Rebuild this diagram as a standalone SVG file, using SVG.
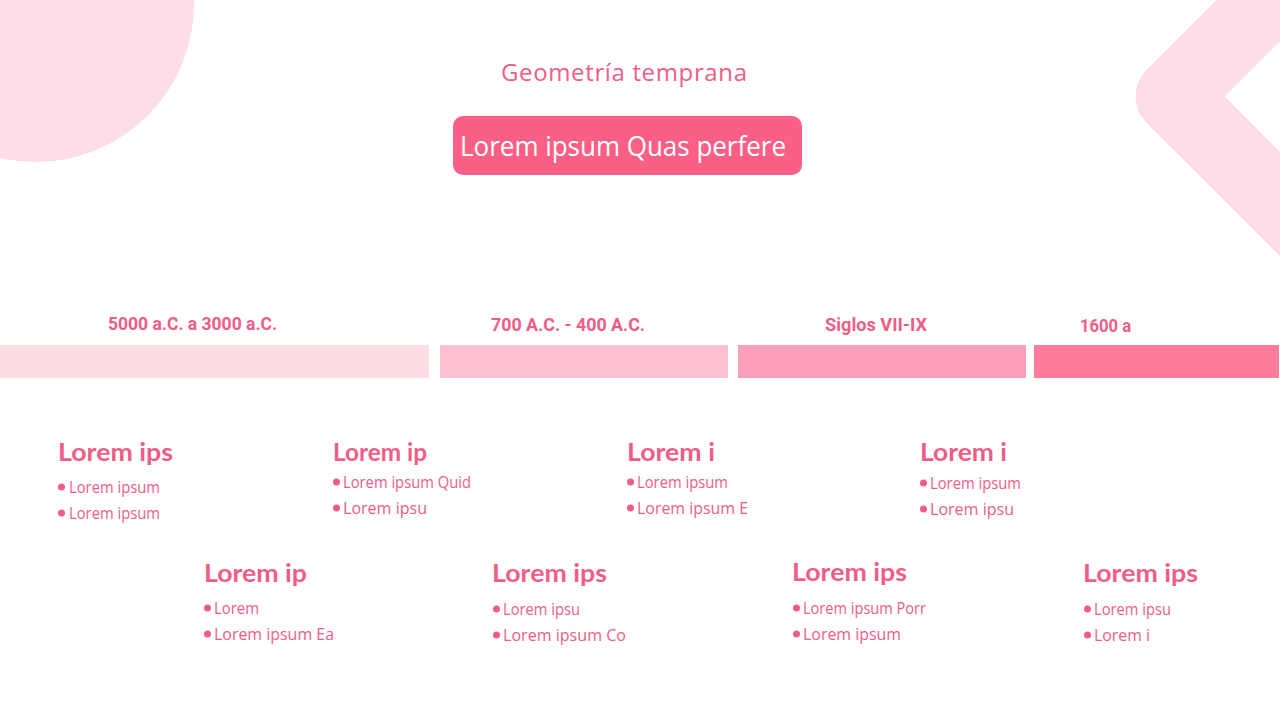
<svg xmlns="http://www.w3.org/2000/svg" width="1280" height="720" viewBox="0 0 1280 720">
<style>
.deco{fill:#FDDDE6}
.title{font-family:"Open Sans","Noto Sans",sans-serif;font-size:24px;fill:#EF5D87}
.btn{fill:#FB5F86}
.btnt{font-family:"Open Sans","Noto Sans",sans-serif;font-size:28px;fill:#FFFFFF}
.lab{font-family:"Roboto","Liberation Sans",sans-serif;font-weight:bold;font-size:18px;fill:#EF5D87}
.h{font-family:"Lato","Liberation Sans",sans-serif;font-weight:bold;font-size:24px;fill:#EF5D87}
.t{font-family:"Open Sans","Noto Sans",sans-serif;font-size:16px;fill:#EF5D87}
.dot{fill:#EF5D87}
</style>
<rect width="1280" height="720" fill="#FFFFFF"/>
<g id="decor">
<circle class="deco" cx="36" cy="4" r="158"/>
<polyline points="1372,-103.5 1172.5,96.5 1372,296" fill="none" stroke="#FDDDE6" stroke-width="74" stroke-linejoin="round"/>
</g>
<g id="title"><text class="title" x="624" y="81" text-anchor="middle" textLength="246">Geometría temprana</text></g>
<g id="header">
<rect class="btn" x="453" y="116" width="349" height="59" rx="10"/>
<text class="btnt" x="460" y="156" textLength="326" lengthAdjust="spacingAndGlyphs">Lorem ipsum Quas perfere</text>
</g>
<g id="timeline">
<rect x="0" y="345" width="429" height="33" fill="#FDDDE4"/>
<rect x="440" y="345" width="288" height="33" fill="#FDC0D0"/>
<rect x="738" y="345" width="288" height="33" fill="#FC9FB8"/>
<rect x="1034" y="345" width="245" height="33" fill="#FF7C9A"/>
<text class="lab" x="108" y="330" textLength="169" lengthAdjust="spacingAndGlyphs">5000 a.C. a 3000 a.C.</text>
<text class="lab" x="491" y="331" textLength="154" lengthAdjust="spacingAndGlyphs">700 A.C. - 400 A.C.</text>
<text class="lab" x="825" y="331" textLength="102" lengthAdjust="spacingAndGlyphs">Siglos VII-IX</text>
<text class="lab" x="1080" y="332" textLength="51" lengthAdjust="spacingAndGlyphs">1600 a</text>
</g>
<g id="item1">
<text class="h" x="58" y="461" textLength="115" lengthAdjust="spacingAndGlyphs">Lorem ips</text>
<circle class="dot" cx="61.5" cy="487" r="3.5"/><text class="t" x="69" y="493" textLength="91" lengthAdjust="spacingAndGlyphs">Lorem ipsum</text>
<circle class="dot" cx="61.5" cy="513" r="3.5"/><text class="t" x="69" y="519" textLength="91" lengthAdjust="spacingAndGlyphs">Lorem ipsum</text>
</g>
<g id="item2">
<text class="h" x="333" y="461" textLength="94" lengthAdjust="spacingAndGlyphs">Lorem ip</text>
<circle class="dot" cx="336.5" cy="482" r="3.5"/><text class="t" x="343" y="488" textLength="128" lengthAdjust="spacingAndGlyphs">Lorem ipsum Quid</text>
<circle class="dot" cx="336.5" cy="508" r="3.5"/><text class="t" x="343" y="514" textLength="84" lengthAdjust="spacingAndGlyphs">Lorem ipsu</text>
</g>
<g id="item3">
<text class="h" x="627" y="461" textLength="88" lengthAdjust="spacingAndGlyphs">Lorem i</text>
<circle class="dot" cx="630.5" cy="482" r="3.5"/><text class="t" x="637" y="488" textLength="91" lengthAdjust="spacingAndGlyphs">Lorem ipsum</text>
<circle class="dot" cx="630.5" cy="508" r="3.5"/><text class="t" x="637" y="514" textLength="111" lengthAdjust="spacingAndGlyphs">Lorem ipsum E</text>
</g>
<g id="item4">
<text class="h" x="920" y="461" textLength="87" lengthAdjust="spacingAndGlyphs">Lorem i</text>
<circle class="dot" cx="923.5" cy="483" r="3.5"/><text class="t" x="930" y="489" textLength="91" lengthAdjust="spacingAndGlyphs">Lorem ipsum</text>
<circle class="dot" cx="923.5" cy="509" r="3.5"/><text class="t" x="930" y="515" textLength="84" lengthAdjust="spacingAndGlyphs">Lorem ipsu</text>
</g>
<g id="item5">
<text class="h" x="204" y="582" textLength="103" lengthAdjust="spacingAndGlyphs">Lorem ip</text>
<circle class="dot" cx="207.5" cy="608" r="3.5"/><text class="t" x="214" y="614" textLength="45" lengthAdjust="spacingAndGlyphs">Lorem</text>
<circle class="dot" cx="207.5" cy="634" r="3.5"/><text class="t" x="214" y="640" textLength="120" lengthAdjust="spacingAndGlyphs">Lorem ipsum Ea</text>
</g>
<g id="item6">
<text class="h" x="492" y="582" textLength="115" lengthAdjust="spacingAndGlyphs">Lorem ips</text>
<circle class="dot" cx="496.5" cy="609" r="3.5"/><text class="t" x="503" y="615" textLength="77" lengthAdjust="spacingAndGlyphs">Lorem ipsu</text>
<circle class="dot" cx="496.5" cy="635" r="3.5"/><text class="t" x="503" y="641" textLength="123" lengthAdjust="spacingAndGlyphs">Lorem ipsum Co</text>
</g>
<g id="item7">
<text class="h" x="792" y="581" textLength="115" lengthAdjust="spacingAndGlyphs">Lorem ips</text>
<circle class="dot" cx="796.5" cy="608" r="3.5"/><text class="t" x="803" y="614" textLength="123" lengthAdjust="spacingAndGlyphs">Lorem ipsum Porr</text>
<circle class="dot" cx="796.5" cy="634" r="3.5"/><text class="t" x="803" y="640" textLength="98" lengthAdjust="spacingAndGlyphs">Lorem ipsum</text>
</g>
<g id="item8">
<text class="h" x="1083" y="582" textLength="115" lengthAdjust="spacingAndGlyphs">Lorem ips</text>
<circle class="dot" cx="1087.5" cy="609" r="3.5"/><text class="t" x="1094" y="615" textLength="77" lengthAdjust="spacingAndGlyphs">Lorem ipsu</text>
<circle class="dot" cx="1087.5" cy="635" r="3.5"/><text class="t" x="1094" y="641" textLength="56" lengthAdjust="spacingAndGlyphs">Lorem i</text>
</g>
</svg>
